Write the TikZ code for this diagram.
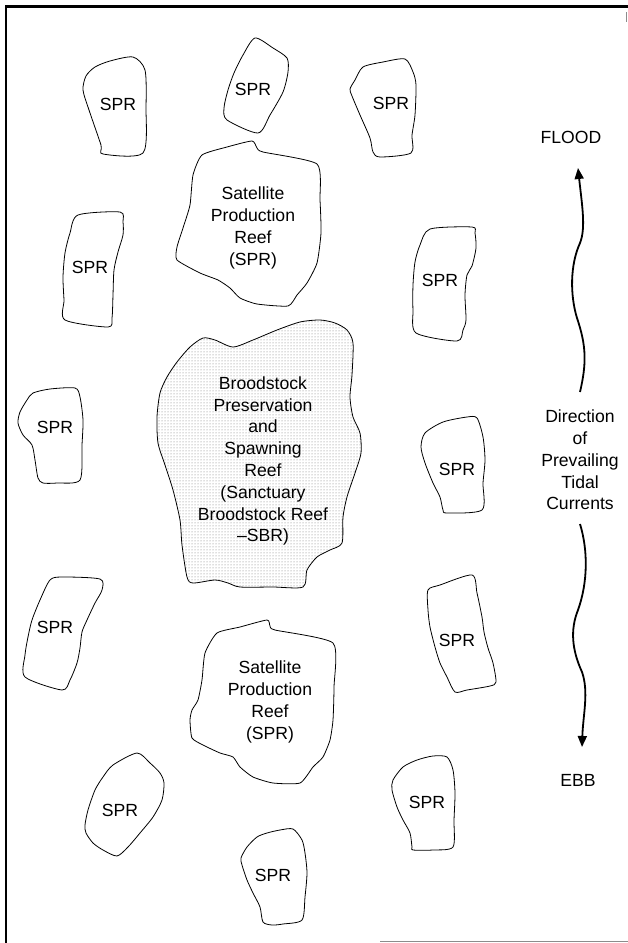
\documentclass[tikz,border=0pt]{standalone}
\usepackage{fontspec}
\setmainfont{Liberation Sans}
\usetikzlibrary{arrows.meta,patterns}
\tikzset{
  reef/.style={draw=black,line width=0.8pt},
  sbrfill/.style={reef,pattern=dots,pattern color=black!55},
  lbl/.style={align=center,inner sep=0pt,font=\fontsize{17.6}{21.8}\selectfont},
  tide/.style={draw=black,line width=1.8pt,-{Triangle[length=11pt,width=9pt]}}
}
\begin{document}
\begin{tikzpicture}[x=1pt,y=-1pt]
\useasboundingbox (0,0) rectangle (628,943);
\draw[line width=2.6pt] (5,6.5) -- (628,6.5);
\draw[line width=2.6pt] (6,5) -- (6,943);
\draw[black!45,line width=0.6pt] (380,941) -- (628,941);
\draw[black!45,line width=0.6pt] (626,12) -- (626,22);
\draw[reef] plot[smooth cycle,tension=0.45] coordinates {(133,57) (145,70) (146,107) (143,153) (103,154) (101,145) (89,110) (83,90) (86,76) (95,67) (110,61)};
\node[lbl] (spra) at (118,104) {SPR};
\draw[reef] plot[smooth cycle,tension=0.45] coordinates {(255,38) (273,48) (287,58) (288,72) (283,92) (270,115) (258,133) (227,120) (224,108) (228,90) (234,73) (243,55)};
\node[lbl] (sprb) at (253,89) {SPR};
\draw[reef] plot[smooth cycle,tension=0.45] coordinates {(363,67) (383,62) (405,59) (413,72) (416,85) (415,115) (412,135) (411,153) (380,157) (373,152) (370,138) (360,115) (352,96) (350,89) (355,80)};
\node[lbl] (sprc) at (391,103) {SPR};
\draw[reef] plot[smooth cycle,tension=0.35] coordinates {(202,155) (227,147) (252,141) (257,148) (263,152) (317,164) (320,200) (321,233) (317,263) (307,283) (297,295) (288,306) (257,304) (240,298) (230,288) (218,280) (200,273) (177,260) (177,247) (183,228) (190,205) (193,175)};
\node[lbl] (satup) at (253,228) {Satellite\\Production\\Reef\\(SPR)};
\draw[reef] plot[smooth cycle,tension=0.45] coordinates {(78,215) (120,212) (123,222) (123,235) (118,252) (114,270) (113,295) (112,318) (108,327) (65,320) (64,300) (63,277) (65,253) (70,233)};
\node[lbl] (sprd) at (90,267) {SPR};
\draw[reef] plot[smooth cycle,tension=0.45] coordinates {(430,229) (472,227) (475,233) (476,248) (472,266) (467,275) (465,295) (466,320) (463,330) (457,341) (416,333) (413,310) (413,285) (415,262) (420,245)};
\node[lbl] (spre) at (440,280) {SPR};
\draw[sbrfill] plot[smooth cycle,tension=0.45] coordinates {(190,347) (203,338) (215,340) (233,347) (253,340) (277,330) (300,322) (320,320) (335,323) (347,330) (353,343) (352,375) (350,397) (353,417) (360,433) (361,453) (355,473) (347,497) (343,517) (342,543) (330,550) (317,557) (307,570) (303,587) (273,587) (240,587) (228,583) (215,580) (193,583) (187,577) (182,545) (180,520) (173,490) (165,465) (158,443) (157,417) (160,393) (167,377) (177,362)};
\node[lbl] (sbr) at (263,461) {Broodstock\\Preservation\\and\\Spawning\\Reef\\(Sanctuary\\Broodstock Reef\\--SBR)};
\draw[reef] plot[smooth cycle,tension=0.45] coordinates {(33,393) (50,389) (75,388) (80,397) (83,420) (82,445) (80,480) (57,483) (43,483) (38,478) (35,460) (32,445) (23,435) (18,423) (20,412) (27,400)};
\node[lbl] (sprf) at (55,427) {SPR};
\draw[reef] plot[smooth cycle,tension=0.45] coordinates {(443,422) (467,417) (477,418) (483,437) (485,460) (483,483) (482,510) (447,513) (443,510) (440,497) (433,483) (425,463) (421,447) (425,433)};
\node[lbl] (sprg) at (457,469) {SPR};
\draw[reef] plot[smooth cycle,tension=0.45] coordinates {(50,580) (62,577) (100,579) (102,590) (95,603) (87,620) (82,632) (80,648) (77,663) (70,680) (62,690) (25,677) (25,655) (28,637) (32,620) (40,600)};
\node[lbl] (sprh) at (55,627) {SPR};
\draw[reef] plot[smooth cycle,tension=0.45] coordinates {(428,590) (440,585) (472,575) (477,593) (482,617) (484,632) (488,648) (493,663) (496,682) (490,686) (467,690) (455,692) (447,677) (440,663) (435,647) (430,627) (428,610)};
\node[lbl] (spri) at (457,640) {SPR};
\draw[reef] plot[smooth cycle,tension=0.35] coordinates {(217,633) (240,627) (267,620) (270,626) (275,630) (333,643) (334,687) (333,720) (330,740) (323,757) (313,767) (300,783) (273,783) (253,777) (240,767) (233,757) (220,753) (203,745) (192,738) (190,720) (192,710) (198,700) (202,680) (205,653)};
\node[lbl] (satlow) at (270,702) {Satellite\\Production\\Reef\\(SPR)};
\draw[reef] plot[smooth cycle,tension=0.45] coordinates {(137,753) (150,763) (160,773) (164,783) (162,800) (153,817) (140,833) (128,847) (117,856) (103,850) (93,843) (86,833) (85,825) (88,810) (95,790) (103,777) (113,765)};
\node[lbl] (sprj) at (120,810) {SPR};
\draw[reef] plot[smooth cycle,tension=0.45] coordinates {(267,833) (280,830) (293,829) (302,840) (305,853) (307,873) (305,897) (302,920) (283,924) (272,925) (263,922) (260,907) (253,893) (247,880) (242,865) (241,858) (247,847) (257,837)};
\node[lbl] (sprk) at (273,875) {SPR};
\draw[reef] plot[smooth cycle,tension=0.45] coordinates {(403,767) (417,760) (433,756) (447,757) (453,770) (455,793) (454,820) (453,847) (433,850) (413,850) (412,847) (410,833) (403,820) (397,807) (392,790) (393,780)};
\node[lbl] (sprl) at (427,802) {SPR};
\node[lbl] (flood) at (571,137) {FLOOD};
\node[lbl] (dir) at (580,460) {Direction\\of\\Prevailing\\Tidal\\Currents};
\node[lbl] (ebb) at (578,780) {EBB};
\coordinate (upstart) at (580,392);
\coordinate (fltip) at (578,168);
\coordinate (dnstart) at (580,524);
\coordinate (ebtip) at (582,747);
\draw[tide] (upstart) .. controls (587,362) and (586,345) .. (577,318) .. controls (570,295) and (570,265) .. (580,243) .. controls (586,228) and (582,205) .. (fltip);
\draw[tide] (dnstart) .. controls (588,550) and (588,582) .. (578,610) .. controls (570,630) and (572,650) .. (582,672) .. controls (589,692) and (583,715) .. (ebtip);
\end{tikzpicture}
\end{document}
